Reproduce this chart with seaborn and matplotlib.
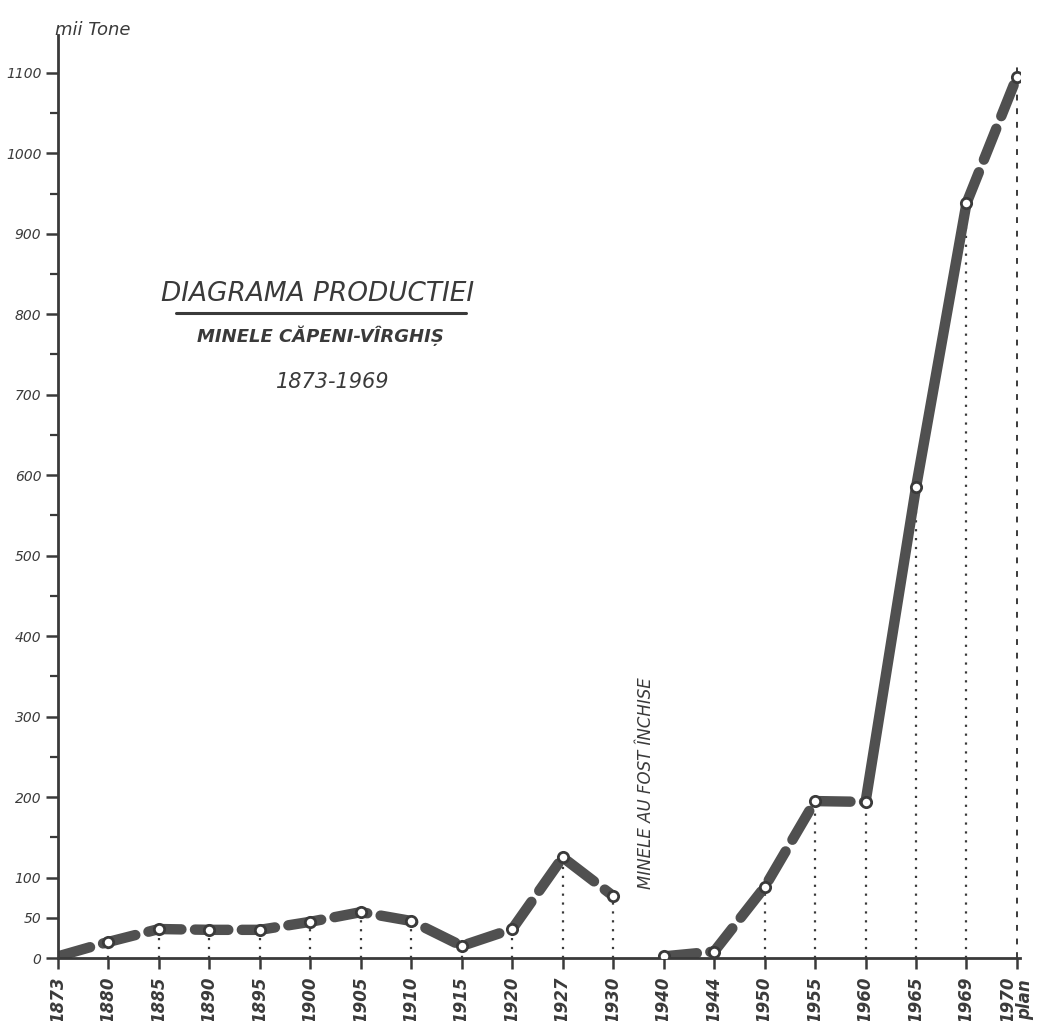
import numpy as np
import matplotlib
matplotlib.use("Agg")
import matplotlib.pyplot as plt
import seaborn as sns

# --- data (mii tone) ---
years = ["1873", "1880", "1885", "1890", "1895", "1900", "1905", "1910", "1915",
         "1920", "1927", "1930", "1940", "1944", "1950", "1955", "1960", "1965",
         "1969", "1970\nplan"]
production = [2, 20, 36, 35, 35, 45, 57, 46, 15, 36, 125, 77, 2, 8, 88, 195, 194,
              585, 938, 1095]
y_major = [0, 50, 100, 200, 300, 400, 500, 600, 700, 800, 900, 1000, 1100]
y_minor = [150, 250, 350, 450, 550, 650, 750, 850, 950, 1050]

# segments of the drawn line (index ranges), dashed or solid
segments = [(0, 11, "dashed"), (12, 16, "dashed"), (16, 18, "solid"), (18, 19, "dashed")]

sns.set_theme(style="white")
plt.rcParams["font.family"] = ["DejaVu Sans"]

ink = "#3a3a3a"
line_col = "#505050"

fig = plt.figure(figsize=(10.56, 10.21), dpi=100)
ax = fig.add_axes([58 / 1056, 1 - 958 / 1021, 962 / 1056, 923 / 1021])

idx = np.arange(len(years))
prod = np.array(production, dtype=float)

# dotted drop lines from each point to the axis
for i in range(1, len(years) - 1):
    if i in (12, 13):
        continue
    ax.plot([idx[i], idx[i]], [0, prod[i] - 8], color=ink, lw=1.6,
            linestyle=(0, (1, 3)), zorder=1)
# plan line (dashed, full height)
ax.plot([idx[-1], idx[-1]], [0, 1110], color=ink, lw=1.4,
        linestyle=(0, (3, 4)), zorder=1)

# production line
for a, b, style in segments:
    xs = idx[a:b + 1]
    ys = prod[a:b + 1]
    ls = (0, (3.2, 1.3)) if style == "dashed" else "-"
    sns.lineplot(x=xs, y=ys, ax=ax, color=line_col, linewidth=7.5,
                 sort=False, zorder=2)
    line = ax.lines[-1]
    line.set_linestyle(ls)
    line.set_dash_capstyle("round")
    line.set_solid_capstyle("round")

# open circle markers
sns.scatterplot(x=idx[1:], y=prod[1:], ax=ax, s=55, marker="o",
                facecolor="white", edgecolor=ink, linewidth=2.0, zorder=3)

# axes styling
ax.set_xlim(0, 19.06)
ax.set_ylim(0, 1147)
for s in ["top", "right"]:
    ax.spines[s].set_visible(False)
for s in ["left", "bottom"]:
    ax.spines[s].set_color(ink)
    ax.spines[s].set_linewidth(2.0)

ax.set_xticks(idx)
ax.set_xticklabels(years, rotation=90, fontsize=12, fontstyle="italic",
                   color=ink, fontweight="bold", linespacing=0.9)
ax.set_yticks(y_major)
ax.set_yticklabels([str(v) for v in y_major], fontsize=10,
                   fontstyle="italic", color=ink)
ax.set_yticks(y_minor, minor=True)
ax.tick_params(axis="y", which="major", direction="out", length=9, width=1.8,
               color=ink, left=True, pad=3)
ax.tick_params(axis="y", which="minor", direction="out", length=6, width=1.6,
               color=ink, left=True)
ax.tick_params(axis="x", which="major", direction="out", length=8, width=1.8,
               color=ink, bottom=True, pad=5)
ax.grid(False)
ax.set_xlabel("")
ax.set_ylabel("")

# texts
def fx(px):
    return px / 1056


def fy(py):
    return 1 - py / 1021


fig.text(fx(93), fy(30), "mii Tone", fontsize=13, fontstyle="italic",
         color=ink, ha="center", va="center")
fig.text(fx(318), fy(294), "DIAGRAMA PRODUCTIEI", fontsize=19,
         fontstyle="italic", color=ink, ha="center", va="center")
fig.add_artist(plt.Line2D([fx(176), fx(466)], [fy(313), fy(313)],
                          color=ink, lw=2.2))
fig.text(fx(320), fy(336), "MINELE CĂPENI-VÎRGHIȘ", fontsize=13,
         fontstyle="italic", color=ink, ha="center", va="center",
         fontweight="bold")
fig.text(fx(333), fy(382), "1873-1969", fontsize=15, fontstyle="italic",
         color=ink, ha="center", va="center")
fig.text(fx(646), fy(783), "MINELE AU FOST ÎNCHISE", fontsize=12,
         fontstyle="italic", color=ink, ha="center", va="center",
         rotation=90)

fig.savefig("out.png", dpi=100, facecolor="white")
